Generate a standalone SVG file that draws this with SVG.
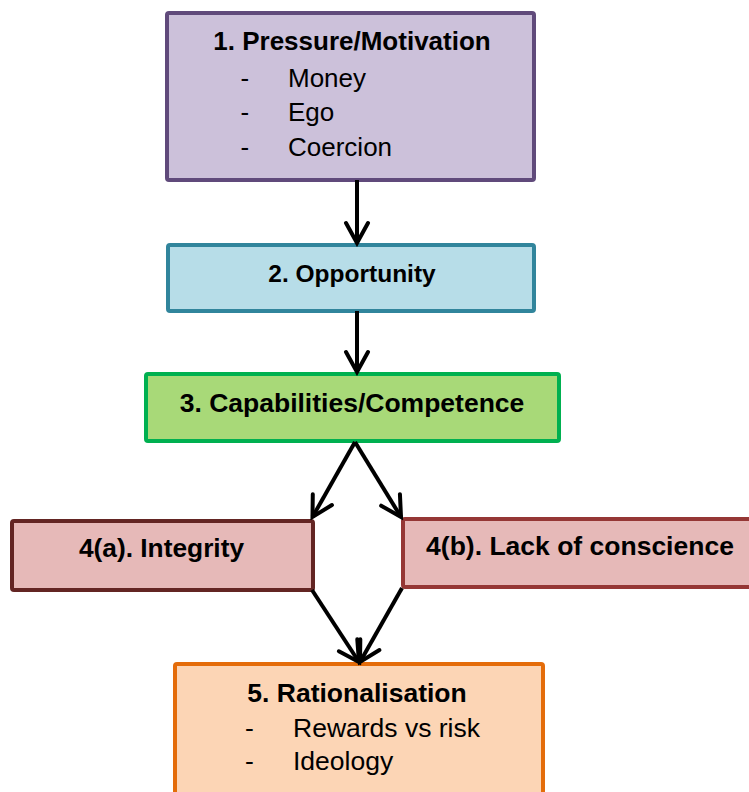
<svg xmlns="http://www.w3.org/2000/svg" width="749" height="792" viewBox="0 0 749 792">
<defs>
<style>
.box{stroke-width:4}
.t{font-family:"Liberation Sans",Arial,sans-serif;fill:#000}
.b{font-weight:bold;text-anchor:middle}
.conn{stroke:#000;stroke-width:4;fill:none}
</style>
<marker id="arr" markerUnits="userSpaceOnUse" viewBox="-24 -14 28 28" markerWidth="28" markerHeight="28" refX="0" refY="0" orient="auto">
<path d="M-20,-11 L0,0 L-20,11" fill="none" stroke="#000" stroke-width="4" stroke-linecap="round" stroke-linejoin="miter"/>
</marker>
</defs>
<rect width="749" height="792" fill="#fff"/>
<g id="n1">
<rect class="box" x="167" y="13" width="367" height="167" rx="2" fill="#ccc1da" stroke="#604a7b"/>
<text class="t b" x="352" y="50" font-size="26">1. Pressure/Motivation</text>
<text class="t" x="240.5" y="86.5" font-size="26">-</text>
<text class="t" x="288" y="86.5" font-size="26">Money</text>
<text class="t" x="240.5" y="121" font-size="26">-</text>
<text class="t" x="288" y="121" font-size="26">Ego</text>
<text class="t" x="240.5" y="155.5" font-size="26">-</text>
<text class="t" x="288" y="155.5" font-size="26">Coercion</text>
</g>
<g id="n2">
<rect class="box" x="168" y="245" width="366" height="66" rx="2" fill="#b7dde8" stroke="#31859c"/>
<text class="t b" x="352" y="282" font-size="24.5">2. Opportunity</text>
</g>
<g id="n3">
<rect class="box" x="146" y="374" width="413" height="67" rx="2" fill="#a8d978" stroke="#00b050"/>
<text class="t b" x="352" y="412" font-size="26.5">3. Capabilities/Competence</text>
</g>
<g id="n4a">
<rect class="box" x="12" y="521" width="301" height="69" rx="2" fill="#e6b9b8" stroke="#632523"/>
<text class="t b" x="161.5" y="557" font-size="26.3">4(a). Integrity</text>
</g>
<g id="n4b">
<rect class="box" x="403" y="519" width="360" height="68" rx="2" fill="#e6b9b8" stroke="#953735"/>
<text class="t b" x="580" y="555" font-size="26.5">4(b). Lack of conscience</text>
</g>
<g id="n5">
<rect class="box" x="175" y="664" width="368" height="140" rx="2" fill="#fcd5b5" stroke="#e46c0a"/>
<text class="t b" x="357" y="701.5" font-size="26.5">5. Rationalisation</text>
<text class="t" x="245" y="737" font-size="26.5">-</text>
<text class="t" x="293" y="737" font-size="26.5">Rewards vs risk</text>
<text class="t" x="245" y="770" font-size="26.5">-</text>
<text class="t" x="293" y="770" font-size="26.5">Ideology</text>
</g>
<g id="connectors">
<line class="conn" x1="357" y1="180" x2="357" y2="243" marker-end="url(#arr)"/>
<line class="conn" x1="357" y1="311" x2="357" y2="372" marker-end="url(#arr)"/>
<line class="conn" x1="355" y1="442" x2="312.5" y2="517" marker-end="url(#arr)"/>
<line class="conn" x1="355" y1="442" x2="401" y2="517" marker-end="url(#arr)"/>
<line class="conn" x1="312" y1="590" x2="359" y2="662" marker-end="url(#arr)"/>
<line class="conn" x1="402" y1="588" x2="360" y2="662" marker-end="url(#arr)"/>
</g>
</svg>
